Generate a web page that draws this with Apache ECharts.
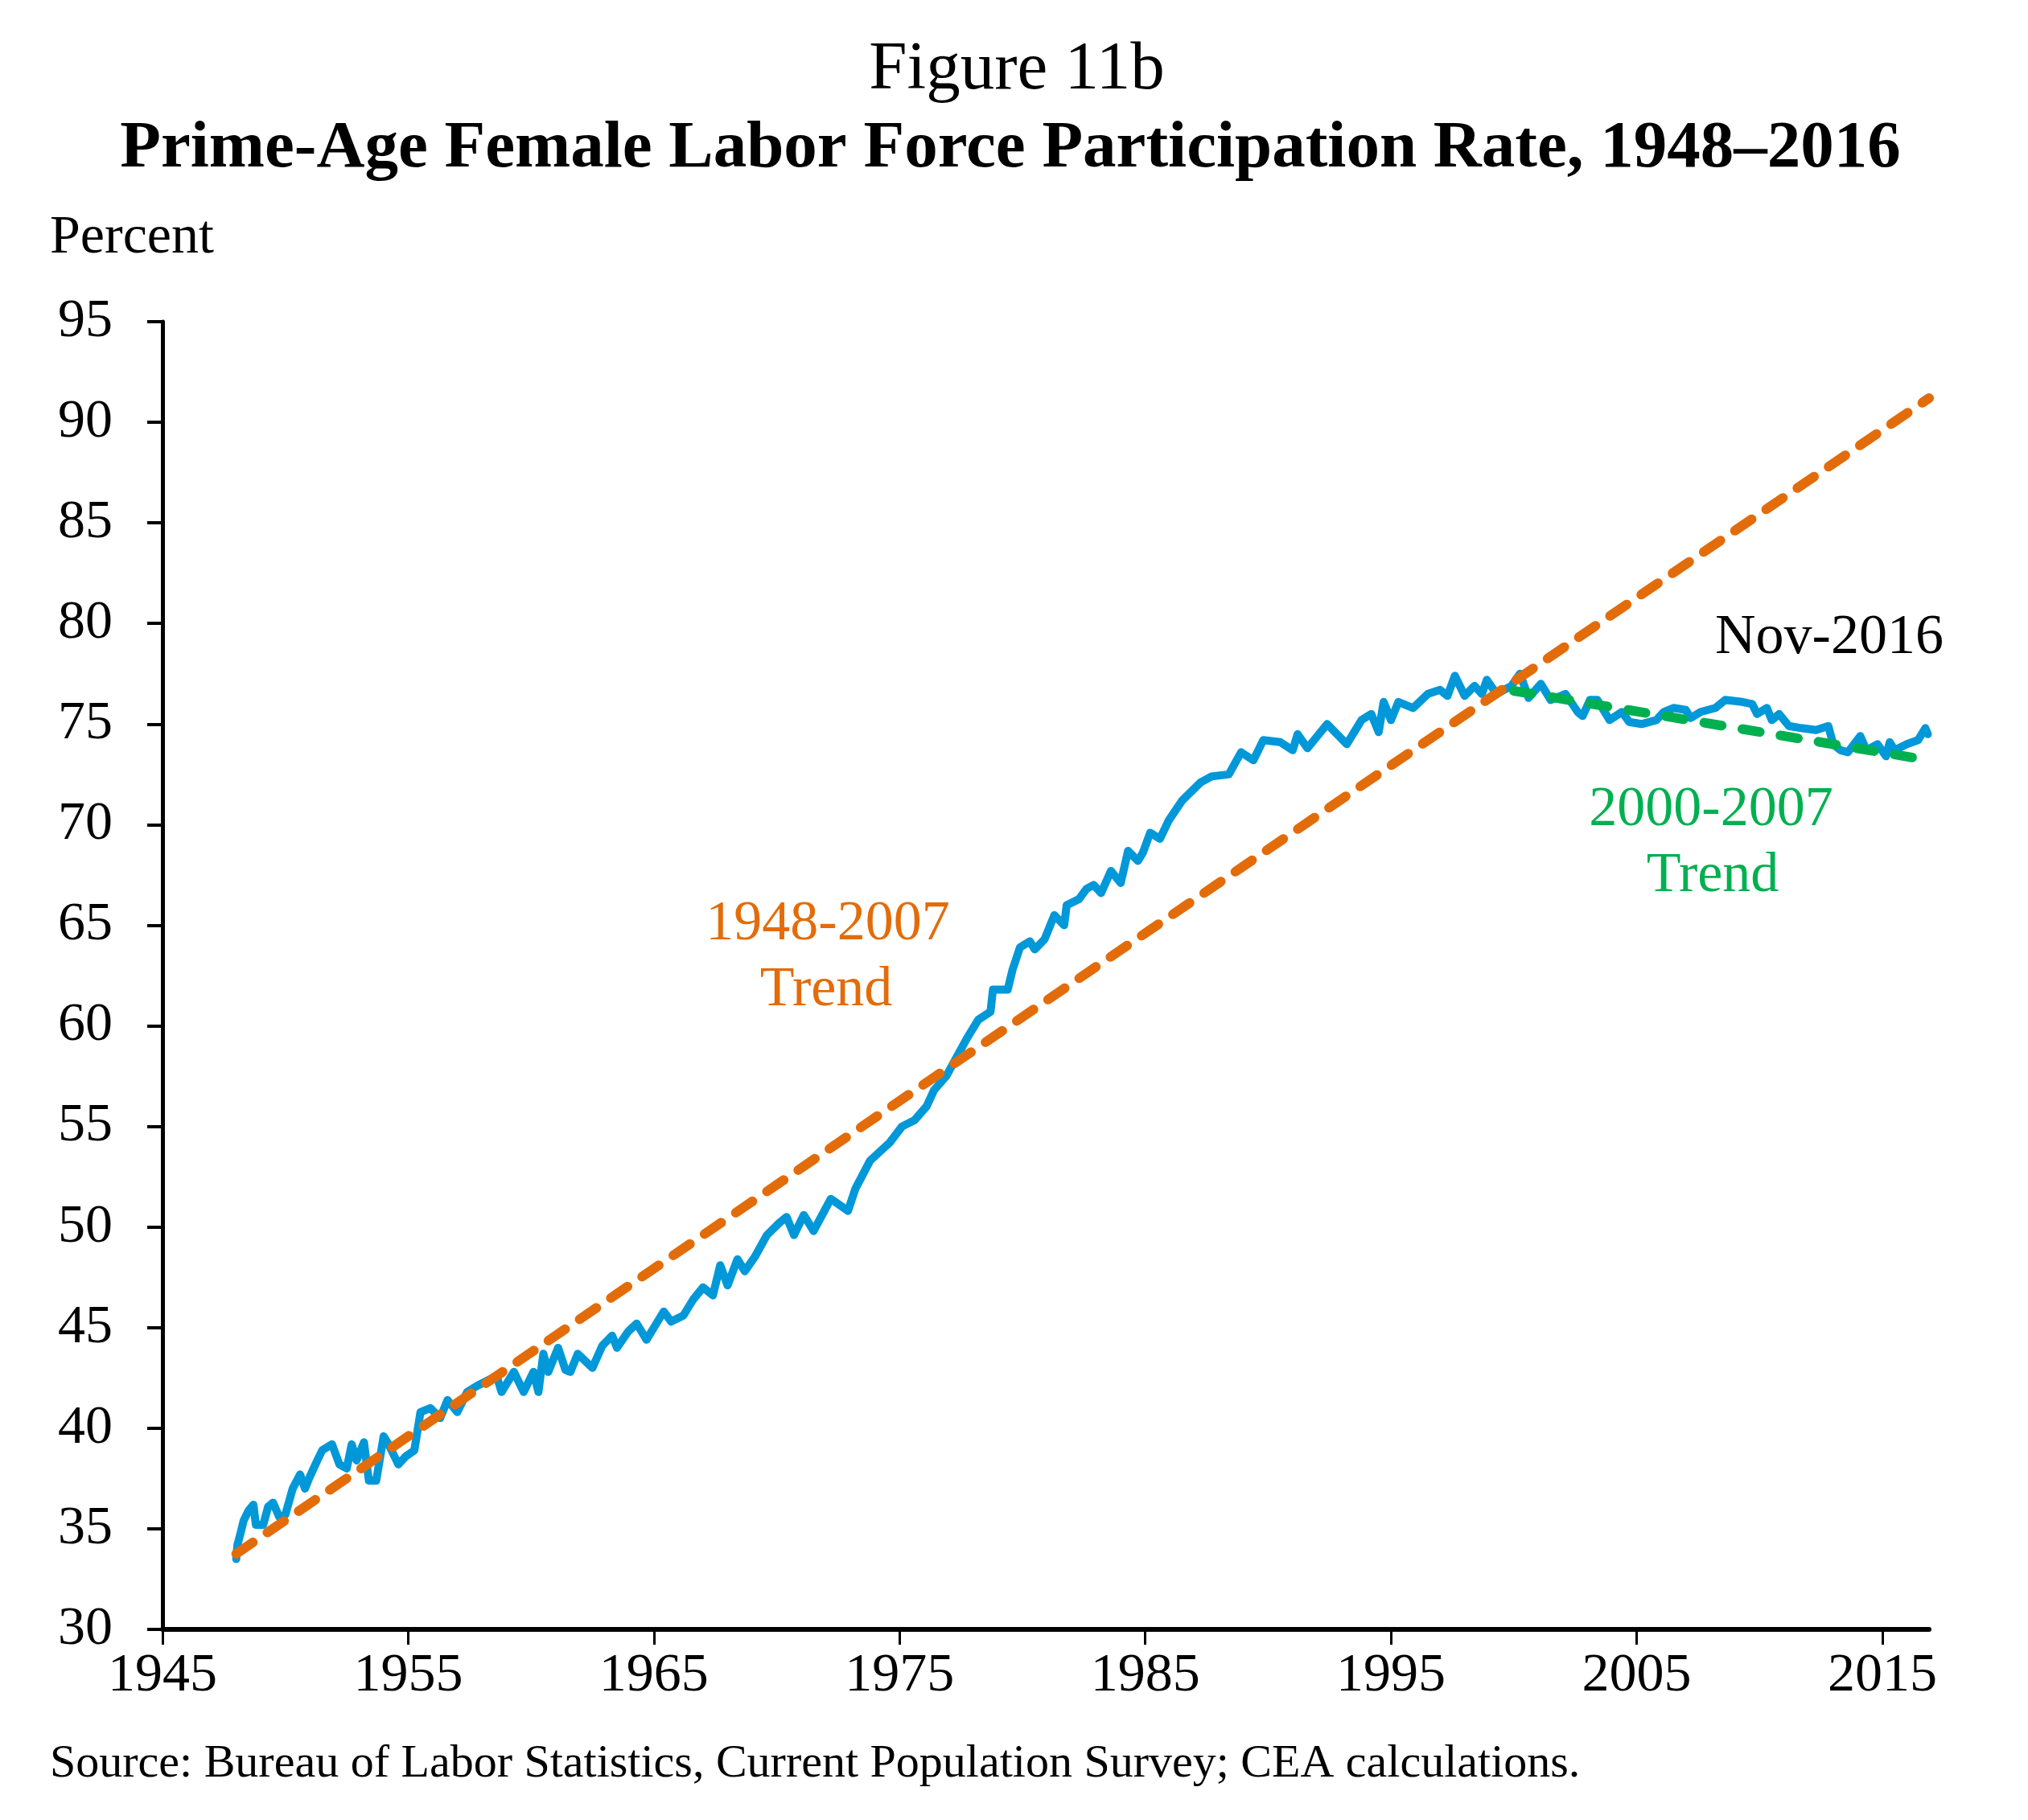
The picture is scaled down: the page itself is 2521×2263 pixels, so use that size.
<!DOCTYPE html>
<html>
<head>
<meta charset="utf-8">
<script src="https://cdn.jsdelivr.net/npm/echarts@6/dist/echarts.min.js"></script>
<style>
  html, body { margin: 0; padding: 0; background: #ffffff; }
  #chart { width: 2521px; height: 2263px; }
</style>
</head>
<body>
<div id="chart"></div>
<script>
// ---- Data ----
const laborYears = [
  1948.0, 1948.05, 1948.2, 1948.3, 1948.5, 1948.7, 1948.8, 1949.1, 1949.3, 1949.5, 1949.75,
  1950.0, 1950.3, 1950.6, 1950.8, 1951.0, 1951.3, 1951.5, 1951.9, 1952.2, 1952.5, 1952.7, 1952.9,
  1953.2, 1953.4, 1953.7, 1954.0, 1954.2, 1954.6, 1954.9, 1955.25, 1955.5, 1955.9, 1956.3, 1956.6,
  1957.0, 1957.4, 1957.8, 1958.6, 1958.8, 1959.3, 1959.7, 1960.1, 1960.3, 1960.5, 1960.7, 1961.1,
  1961.4, 1961.6, 1961.9, 1962.5, 1962.9, 1963.3, 1963.5, 1963.95, 1964.3, 1964.7, 1965.0, 1965.4,
  1965.7, 1966.2, 1966.6, 1967.0, 1967.4, 1967.7, 1968.0, 1968.4, 1968.7, 1969.1, 1969.6, 1970.1,
  1970.4, 1970.7, 1971.1, 1971.5, 1972.2, 1972.9, 1973.2, 1973.8, 1974.6, 1975.1, 1975.6, 1976.1,
  1976.4, 1976.9, 1977.3, 1977.75, 1978.2, 1978.7, 1978.8, 1979.4, 1979.6, 1979.9, 1980.3, 1980.5,
  1980.9, 1981.3, 1981.7, 1981.8, 1982.3, 1982.6, 1982.9, 1983.2, 1983.6, 1984.0, 1984.3, 1984.7,
  1984.9, 1985.2, 1985.6, 1985.95, 1986.5, 1987.25, 1987.7, 1988.4, 1988.9, 1989.4, 1989.8, 1990.5,
  1991.0, 1991.2, 1991.6, 1992.4, 1993.2, 1993.8, 1994.2, 1994.5, 1994.7, 1995.0, 1995.3, 1995.9,
  1996.5, 1997.0, 1997.3, 1997.6, 1998.0, 1998.4, 1998.7, 1998.9, 1999.3, 1999.9, 2000.25, 2000.6,
  2001.1, 2001.5, 2002.1, 2002.6, 2002.8, 2003.1, 2003.4, 2003.9, 2004.4, 2004.7, 2005.2, 2005.8,
  2006.1, 2006.5, 2007.0, 2007.2, 2007.6, 2008.2, 2008.6, 2009.3, 2009.7, 2009.9, 2010.3, 2010.5,
  2010.8, 2011.2, 2011.7, 2012.3, 2012.8, 2013.0, 2013.3, 2013.6, 2014.1, 2014.35, 2014.8, 2015.15,
  2015.3, 2015.5, 2016.0, 2016.45, 2016.75, 2016.85
];
const laborRate = [
  33.5, 34.2, 34.9, 35.4, 35.9, 36.2, 35.2, 35.2, 36.1, 36.3, 35.6,
  35.7, 37.0, 37.7, 37.0, 37.6, 38.4, 38.9, 39.2, 38.2, 38.0, 39.2, 38.4,
  39.3, 37.4, 37.4, 39.6, 39.2, 38.2, 38.6, 38.9, 40.8, 41.0, 40.5, 41.4,
  40.8, 41.8, 42.1, 42.6, 41.8, 42.8, 41.8, 42.8, 41.8, 43.7, 42.8, 44.0,
  42.9, 42.8, 43.7, 43.0, 44.1, 44.6, 44.0, 44.8, 45.2, 44.4, 45.0, 45.8,
  45.3, 45.6, 46.4, 47.0, 46.6, 48.1, 47.1, 48.4, 47.8, 48.5, 49.6, 50.2,
  50.5, 49.6, 50.6, 49.8, 51.4, 50.8, 51.9, 53.3, 54.2, 55.0, 55.3, 56.0,
  56.8, 57.5, 58.4, 59.4, 60.3, 60.7, 61.8, 61.8, 62.8, 63.9, 64.2, 63.8,
  64.3, 65.5, 65.0, 66.0, 66.3, 66.8, 67.0, 66.6, 67.7, 67.1, 68.7, 68.2,
  68.6, 69.6, 69.3, 70.2, 71.2, 72.1, 72.4, 72.5, 73.6, 73.2, 74.2, 74.1,
  73.7, 74.5, 73.8, 75.0, 74.0, 75.2, 75.5, 74.6, 76.1, 75.2, 76.1, 75.8,
  76.5, 76.7, 76.4, 77.4, 76.4, 76.9, 76.5, 77.2, 76.5, 76.9, 77.5, 76.3,
  77.0, 76.2, 76.5, 75.6, 75.4, 76.2, 76.2, 75.2, 75.6, 75.1, 75.0, 75.2,
  75.6, 75.8, 75.7, 75.3, 75.6, 75.8, 76.2, 76.1, 76.0, 75.5, 75.8, 75.2,
  75.5, 74.9, 74.8, 74.7, 74.9, 74.0, 73.7, 73.6, 74.4, 73.7, 74.0, 73.4,
  74.1, 73.7, 74.0, 74.2, 74.8, 74.5
];
const longTrendYears = [1948.0, 2016.9];
const longTrendValues = [33.76, 91.2];
const shortTrendYears = [2000.0, 2016.9];
const shortTrendValues = [76.65, 73.2];
const xTickYears = [1945, 1955, 1965, 1975, 1985, 1995, 2005, 2015];

// ---- Styles ----
const FONT = '"Liberation Serif", "Times New Roman", serif';
const BLUE = '#0098D8';
const ORANGE = '#E36C0A';
const GREEN = '#00B050';

function pairs(xs, ys) { return xs.map((x, i) => [x, ys[i]]); }

const chart = echarts.init(document.getElementById('chart'), null, { renderer: 'canvas' });
chart.setOption({
  animation: false,
  backgroundColor: '#ffffff',
  grid: { left: 202, right: 123, top: 400, bottom: 237, containLabel: false },
  xAxis: {
    type: 'value',
    min: 1945, max: 2016.9, interval: 10,
    axisLine: { show: true, onZero: false, lineStyle: { color: '#000', width: 6 } },
    axisTick: { show: true, inside: false, length: 19, customValues: xTickYears,
      lineStyle: { color: '#000', width: 3 } },
    axisLabel: { show: true, margin: 24, customValues: xTickYears,
      fontFamily: FONT, fontSize: 68, color: '#000', formatter: v => String(v) },
    splitLine: { show: false }
  },
  yAxis: {
    type: 'value',
    min: 30, max: 95, interval: 5,
    axisLine: { show: true, lineStyle: { color: '#000', width: 5 } },
    axisTick: { show: true, inside: false, length: 19, lineStyle: { color: '#000', width: 4 } },
    axisLabel: { show: true, margin: 62, fontFamily: FONT, fontSize: 68, color: '#000' },
    splitLine: { show: false }
  },
  series: [
    {
      name: 'Participation rate', type: 'line', showSymbol: false, symbol: 'none',
      data: pairs(laborYears, laborRate),
      lineStyle: { color: BLUE, width: 10, join: 'round', cap: 'round' }, z: 2
    },
    {
      name: '1948-2007 Trend', type: 'line', showSymbol: false, symbol: 'none',
      data: pairs(longTrendYears, longTrendValues),
      lineStyle: { color: ORANGE, width: 12, type: [25, 22], cap: 'round' }, z: 3
    },
    {
      name: '2000-2007 Trend', type: 'line', showSymbol: false, symbol: 'none',
      data: pairs(shortTrendYears, shortTrendValues),
      lineStyle: { color: GREEN, width: 12, type: [22, 26], cap: 'round' }, z: 4
    }
  ],
  graphic: [
    { type: 'text', x: 1264, y: 88, style: { text: 'Figure 11b', fontFamily: FONT, fontSize: 85,
      fill: '#000', align: 'center', verticalAlign: 'middle' } },
    { type: 'text', x: 1256, y: 186, style: { text: 'Prime-Age Female Labor Force Participation Rate, 1948\u20132016',
      fontFamily: FONT, fontSize: 83, fontWeight: 'bold', fill: '#000', align: 'center', verticalAlign: 'middle' } },
    { type: 'text', x: 62, y: 296, style: { text: 'Percent', fontFamily: FONT, fontSize: 68,
      fill: '#000', align: 'left', verticalAlign: 'middle' } },
    { type: 'text', x: 62, y: 2194, style: { text: 'Source: Bureau of Labor Statistics, Current Population Survey; CEA calculations.',
      fontFamily: FONT, fontSize: 58, fill: '#000', align: 'left', verticalAlign: 'middle' } },
    { type: 'text', x: 2274, y: 794, style: { text: 'Nov-2016', fontFamily: FONT, fontSize: 70,
      fill: '#000', align: 'center', verticalAlign: 'middle' } },
    { type: 'text', x: 2127, y: 1008, style: { text: '2000-2007', fontFamily: FONT, fontSize: 70,
      fill: GREEN, align: 'center', verticalAlign: 'middle' } },
    { type: 'text', x: 2129, y: 1090, style: { text: 'Trend', fontFamily: FONT, fontSize: 70,
      fill: GREEN, align: 'center', verticalAlign: 'middle' } },
    { type: 'text', x: 1029, y: 1150, style: { text: '1948-2007', fontFamily: FONT, fontSize: 70,
      fill: ORANGE, align: 'center', verticalAlign: 'middle' } },
    { type: 'text', x: 1027, y: 1232, style: { text: 'Trend', fontFamily: FONT, fontSize: 70,
      fill: ORANGE, align: 'center', verticalAlign: 'middle' } }
  ]
});
</script>
</body>
</html>
